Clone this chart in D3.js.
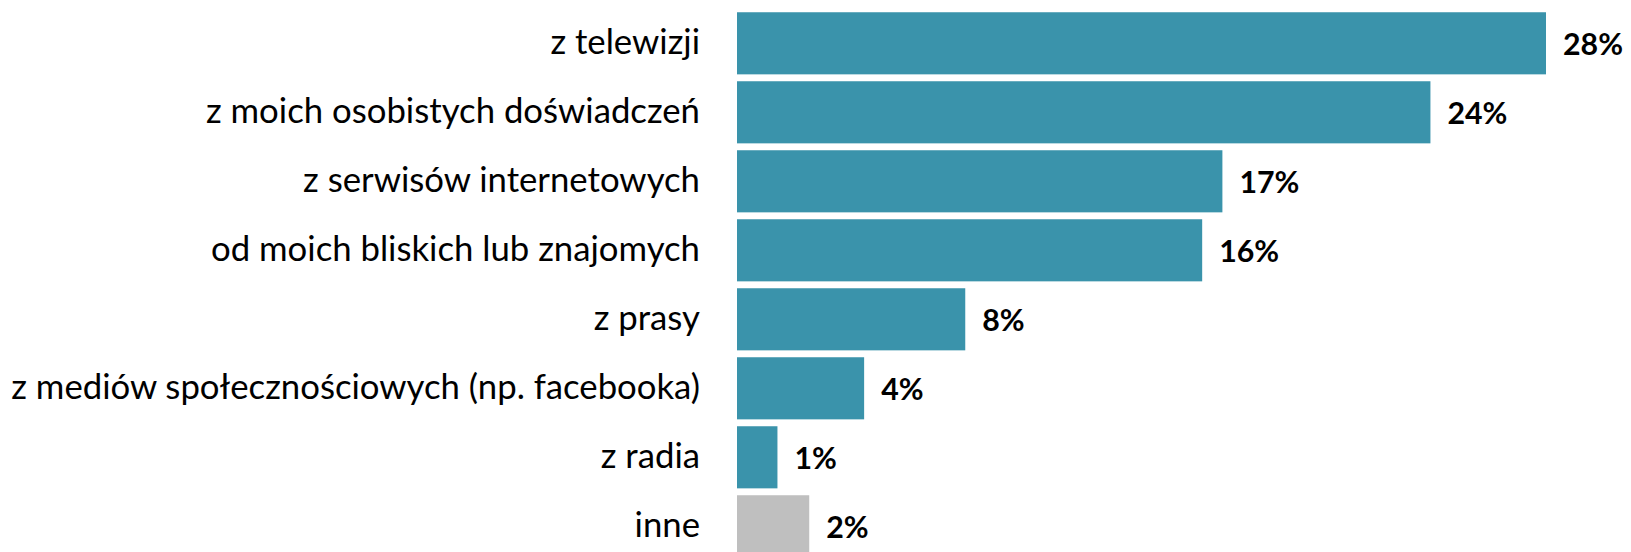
<!DOCTYPE html>
<html><head><meta charset="utf-8">
<script src="https://cdn.jsdelivr.net/npm/d3@7"></script>
<style>html,body{margin:0;padding:0;background:#fff;overflow:hidden}</style>
</head><body>
<svg id="chart" width="1631" height="552"></svg>
<script>
const categories = ["z telewizji","z moich osobistych doświadczeń","z serwisów internetowych","od moich bliskich lub znajomych","z prasy","z mediów społecznościowych (np. facebooka)","z radia","inne"];
const values = [28.0, 24.0, 16.8, 16.1, 7.9, 4.4, 1.4, 2.5];
const valueLabels = ["28%","24%","17%","16%","8%","4%","1%","2%"];
const barColors = ["#3A93AB","#3A93AB","#3A93AB","#3A93AB","#3A93AB","#3A93AB","#3A93AB","#BFBFBF"];

const svg = d3.select("#chart");
const x = d3.scaleLinear().domain([0, 28]).range([737, 1546]);
const y = d3.scaleBand().domain(categories).range([8.8, 8.8 + 69*8]).paddingInner(0.1).paddingOuter(0.05);

const font = "Lato, 'Open Sans', sans-serif";

svg.selectAll("rect.bar").data(categories).join("rect")
  .attr("class","bar")
  .attr("x", x(0))
  .attr("y", d => y(d))
  .attr("width", (d,i) => x(values[i]) - x(0))
  .attr("height", y.bandwidth())
  .attr("fill", (d,i) => barColors[i]);

const cat = svg.selectAll("text.cat").data(categories).join("text")
  .attr("class","cat")
  .attr("x", 700)
  .attr("y", d => y(d) + y.bandwidth()/2 + 11)
  .attr("text-anchor","end")
  .attr("font-family", font)
  .attr("font-size", 30)
  .attr("fill","#000")
  .text(d => d);
// fit size so the longest label spans the reference width
let maxW = 0; cat.each(function(){ maxW = Math.max(maxW, this.getComputedTextLength()); });
cat.attr("font-size", 30 * 689 / maxW);

const vl = svg.selectAll("text.val").data(categories).join("text")
  .attr("class","val")
  .attr("x", (d,i) => x(values[i]) + 17)
  .attr("y", d => y(d) + y.bandwidth()/2 + 11.5)
  .attr("font-family", font)
  .attr("font-weight","bold")
  .attr("font-size", 30)
  .attr("fill","#000")
  .text((d,i) => valueLabels[i]);
const w28 = vl.filter((d,i)=>i===0).node().getComputedTextLength();
vl.attr("font-size", 30 * 60 / w28);
</script>
</body></html>
